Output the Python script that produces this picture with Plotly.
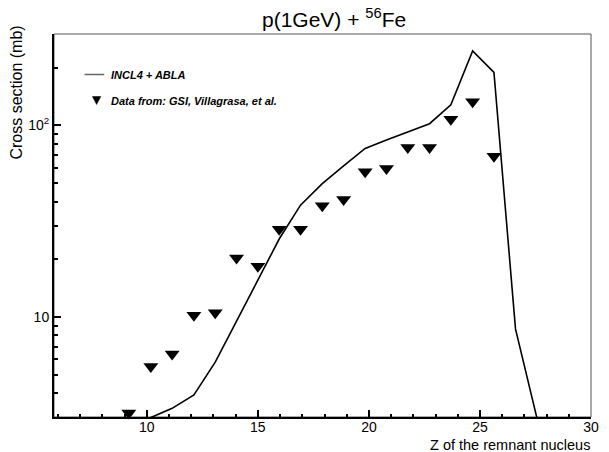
import plotly.graph_objects as go

# ---- data ----
data_z = [9.19, 10.18, 11.14, 12.12, 13.08, 14.04, 15.0, 15.96, 16.92, 17.9,
          18.86, 19.83, 20.79, 21.75, 22.73, 23.69, 24.67, 25.63]
data_sigma = [3.15, 5.5, 6.4, 10.2, 10.5, 20.3, 18.4, 28.7, 28.7, 38.0,
              41.0, 57.3, 59.6, 76.7, 76.7, 107.5, 133.0, 69.0]

model_z = [10.18, 11.14, 12.12, 13.08, 14.04, 15.0, 15.96, 16.92, 17.9, 18.86,
           19.83, 20.79, 21.75, 22.73, 23.69, 24.67, 25.63, 26.6, 27.56]
model_sigma = [2.98, 3.33, 3.91, 5.8, 9.5, 15.5, 25.5, 38.3, 49.6, 61.4,
               75.8, 83.8, 92.7, 102.0, 128.0, 245.0, 189.0, 8.65, 2.98]

x_major = [10, 15, 20, 25, 30]
x_major_labels = ["10", "15", "20", "25", "30"]
x_minor = [6, 7, 8, 9, 11, 12, 13, 14, 16, 17, 18, 19, 21, 22, 23, 24, 26, 27, 28, 29]
y_major = [10, 100]
y_major_labels = ["10", "10<sup>2</sup>"]
y_minor = [4, 5, 6, 7, 8, 9, 20, 30, 40, 50, 60, 70, 80, 90, 200]

title_text = "p(1GeV) + <sup>56</sup>Fe"
x_title = "Z of the remnant nucleus"
y_title = "Cross section (mb)"
legend_model = "INCL4 + ABLA"
legend_data = "Data from: GSI, Villagrasa, et al."

# ---- layout geometry (pixels) ----
W, H = 609, 452
ML, MR, MT, MB = 54, 10, 34, 35
PW, PH = W - ML - MR, H - MT - MB


def px(x):
    return (x - ML) / PW


def py(y):
    return (H - MB - y) / PH


FONT = "Liberation Sans, Arial, sans-serif"

fig = go.Figure()
fig.add_trace(go.Scatter(x=model_z, y=model_sigma, mode="lines",
                         line=dict(color="black", width=1.6),
                         name=legend_model, showlegend=False))
fig.add_trace(go.Scatter(x=data_z, y=data_sigma, mode="markers",
                         marker=dict(symbol="triangle-down", size=13, color="black"),
                         name=legend_data, showlegend=False, cliponaxis=False))

shapes = [
    # frame (top/right)
    dict(type="rect", xref="paper", yref="paper", x0=0, x1=1, y0=0, y1=1,
         line=dict(color="#555555", width=1), layer="below"),
    # legend line sample
    dict(type="line", xref="paper", yref="paper", x0=px(85), x1=px(105),
         y0=py(74.5), y1=py(74.5), line=dict(color="#666666", width=1.5)),
    # legend triangle
    dict(type="path", xref="paper", yref="paper",
         path="M {} {} L {} {} L {} {} Z".format(px(93), py(96.5), px(101.5), py(96.5),
                                                 px(97.25), py(104.5)),
         fillcolor="black", line=dict(color="black", width=0.5)),
]

annotations = [
    dict(text=title_text, xref="paper", yref="paper", x=px(338), y=py(33),
         xanchor="center", yanchor="bottom", showarrow=False,
         font=dict(family=FONT, size=21, color="black")),
    dict(text=x_title, xref="paper", yref="paper", x=px(600), y=py(444.5),
         xanchor="right", yanchor="middle", showarrow=False,
         font=dict(family=FONT, size=14.5, color="black")),
    dict(text=y_title, xref="paper", yref="paper", x=px(15), y=py(24),
         xanchor="center", yanchor="top", textangle=-90, showarrow=False,
         font=dict(family=FONT, size=16, color="black")),
    dict(text="<b><i>" + legend_model + "</i></b>", xref="paper", yref="paper",
         x=px(110), y=py(74.5), xanchor="left", yanchor="middle", showarrow=False,
         font=dict(family=FONT, size=11, color="black")),
    dict(text="<b><i>" + legend_data + "</i></b>", xref="paper", yref="paper",
         x=px(110), y=py(100.5), xanchor="left", yanchor="middle", showarrow=False,
         font=dict(family=FONT, size=11, color="black")),
]

fig.update_layout(
    width=W, height=H,
    margin=dict(l=ML, r=MR, t=MT, b=MB, pad=0),
    paper_bgcolor="white", plot_bgcolor="white",
    showlegend=False,
    shapes=shapes, annotations=annotations,
    xaxis=dict(range=[5.82, 30], showgrid=False, zeroline=False,
               showline=True, linecolor="black", linewidth=2,
               ticks="inside", ticklen=7, tickwidth=1.5, tickcolor="black",
               tickmode="array", tickvals=x_major, ticktext=x_major_labels,
               ticklabelstandoff=-4,
               minor=dict(tickmode="array", tickvals=x_minor, ticks="inside",
                          ticklen=3.5, tickwidth=1.5, tickcolor="black"),
               tickfont=dict(family=FONT, size=14, color="black")),
    yaxis=dict(type="log", range=[0.47712, 2.47712], showgrid=False, zeroline=False,
               showline=True, linecolor="black", linewidth=2,
               ticks="inside", ticklen=7, tickwidth=1.5, tickcolor="black",
               tickmode="array", tickvals=y_major, ticktext=y_major_labels,
               minor=dict(tickmode="array", tickvals=y_minor, ticks="inside",
                          ticklen=4, tickwidth=1.5, tickcolor="black"),
               tickfont=dict(family=FONT, size=14, color="black")),
)

fig.write_html("out.html")
